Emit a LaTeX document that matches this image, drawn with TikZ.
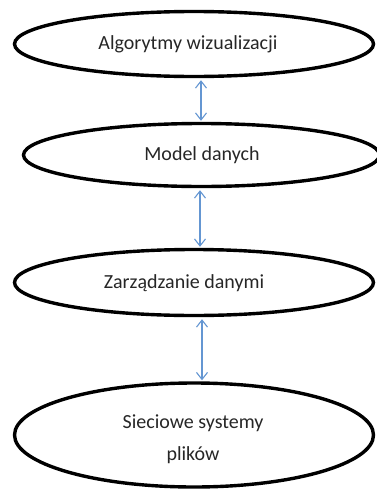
\documentclass[tikz,border=0pt]{standalone}
\usepackage{fontspec}
\setmainfont{Carlito}
\usetikzlibrary{shapes.geometric,arrows.meta}
\definecolor{linkblue}{RGB}{100,150,210}
\tikzset{
  layer/.style={ellipse, draw=black, line width=3.4pt, inner sep=0pt},
  caption/.style={font=\fontsize{20}{32}\selectfont, text=black!85, align=center},
  link/.style={draw=linkblue, line width=1.1pt,
    {Straight Barb[length=7pt,width=11pt]}-{Straight Barb[length=7pt,width=11pt]},
    shorten <=2pt, shorten >=1pt}
}
\begin{document}
\begin{tikzpicture}[x=1pt,y=-1pt]
  \useasboundingbox (0,0) rectangle (377,490);
  % stack of layers, top to bottom
  \node[layer, minimum width=359pt, minimum height=65pt] (viz) at (194,44) {};
  \node[layer, minimum width=356pt, minimum height=63pt] (model) at (201.5,155) {};
  \node[layer, minimum width=359pt, minimum height=66pt] (mgmt) at (194,282.5) {};
  \node[layer, minimum width=359pt, minimum height=104pt] (fs) at (194,435) {};
  % labels
  \node[caption] (tviz) at (188,44) {Algorytmy wizualizacji};
  \node[caption] (tmodel) at (202,155) {Model danych};
  \node[caption] (tmgmt) at (184,283) {Zarządzanie danymi};
  \node[caption] (tfs) at (193,439) {Sieciowe systemy\\plików};
  % two-way links between neighbouring layers
  \coordinate (c1) at (201,0);
  \coordinate (c2) at (200,0);
  \coordinate (c3) at (202,0);
  \draw[link] (viz.south -| c1) -- (model.north -| c1);
  \draw[link] (model.south -| c2) -- (mgmt.north -| c2);
  \draw[link] (mgmt.south -| c3) -- (fs.north -| c3);
\end{tikzpicture}
\end{document}
